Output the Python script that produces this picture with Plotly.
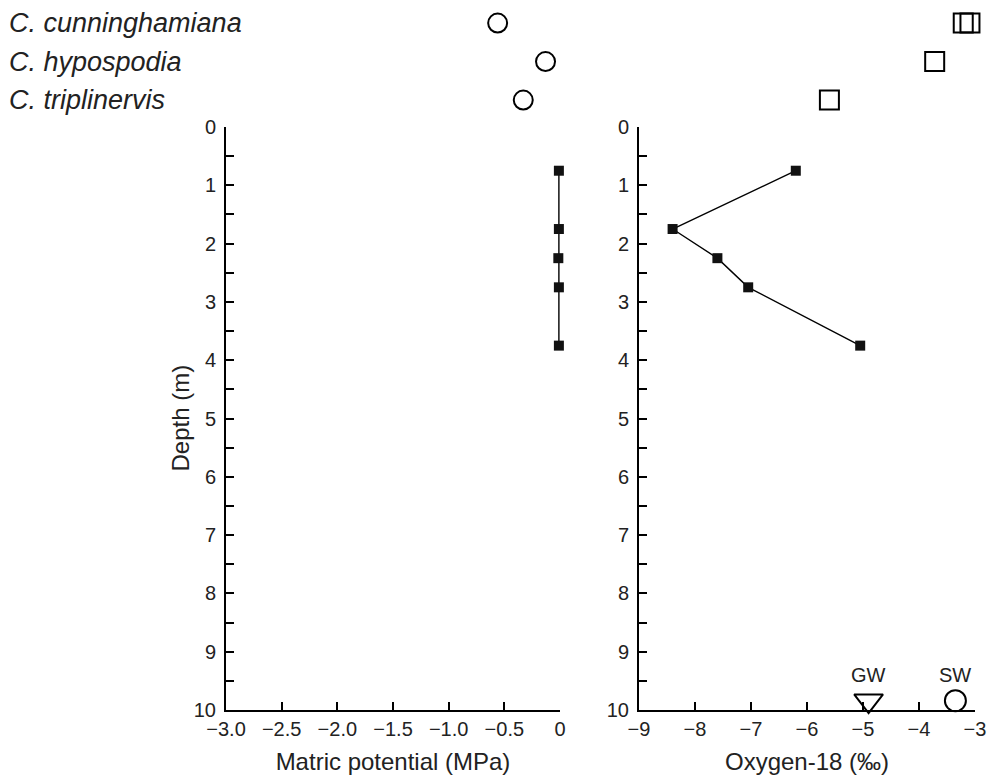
import plotly.graph_objects as go

# ---------------- data ----------------
depth = [0.75, 1.75, 2.25, 2.75, 3.75]
matric_potential = [-0.01, -0.01, -0.015, -0.01, -0.01]
oxygen18 = [-6.2, -8.4, -7.6, -7.05, -5.05]

species = ["C. cunninghamiana", "C. hypospodia", "C. triplinervis"]
species_matric = [-0.56, -0.13, -0.33]
species_o18 = [[-3.21, -3.09], [-3.72], [-5.6]]

gw_label, gw_o18, gw_depth = "GW", -4.9, 9.84
sw_label, sw_o18, sw_depth = "SW", -3.35, 9.84

matric_ticks = [-3.0, -2.5, -2.0, -1.5, -1.0, -0.5, 0]
matric_ticktext = ["\u22123.0", "\u22122.5", "\u22122.0", "\u22121.5", "\u22121.0", "\u22120.5", "0"]
o18_ticks = [-9, -8, -7, -6, -5, -4, -3]
o18_ticktext = ["\u22129", "\u22128", "\u22127", "\u22126", "\u22125", "\u22124", "\u22123"]
depth_ticks = list(range(0, 11))

# ---------------- layout constants ----------------
W, H = 987, 775
FONT = "Liberation Sans, Arial, Helvetica, sans-serif"
TXT = "#222222"
left_dom = [226 / W, 560 / W]
right_dom = [639 / W, 975 / W]
y_dom = [(H - 710) / H, (H - 127) / H]
top_dom = [(H - 127) / H, 1.0]

fig = go.Figure()

# main profiles
fig.add_trace(go.Scatter(
    x=matric_potential, y=depth, mode="lines+markers",
    line=dict(color="black", width=1.4),
    marker=dict(symbol="square", size=10, color="#111111"),
    xaxis="x", yaxis="y", cliponaxis=False, showlegend=False))
fig.add_trace(go.Scatter(
    x=oxygen18, y=depth, mode="lines+markers",
    line=dict(color="black", width=1.4),
    marker=dict(symbol="square", size=10, color="#111111"),
    xaxis="x2", yaxis="y2", cliponaxis=False, showlegend=False))

# GW / SW
fig.add_trace(go.Scatter(
    x=[gw_o18], y=[gw_depth], mode="markers",
    marker=dict(symbol="triangle-down", size=25, color="white",
                line=dict(color="black", width=2)),
    xaxis="x2", yaxis="y2", cliponaxis=False, showlegend=False))
fig.add_trace(go.Scatter(
    x=[sw_o18], y=[sw_depth], mode="markers",
    marker=dict(symbol="circle", size=21, color="white",
                line=dict(color="black", width=2)),
    xaxis="x2", yaxis="y2", cliponaxis=False, showlegend=False))

# species row symbols (top band)
rows = list(range(len(species)))
fig.add_trace(go.Scatter(
    x=species_matric, y=rows, mode="markers",
    marker=dict(symbol="circle", size=19, color="rgba(0,0,0,0)",
                line=dict(color="black", width=2)),
    xaxis="x", yaxis="y3", cliponaxis=False, showlegend=False))
sx, sy = [], []
for i, vals in enumerate(species_o18):
    for v in vals:
        sx.append(v)
        sy.append(i)
fig.add_trace(go.Scatter(
    x=sx, y=sy, mode="markers",
    marker=dict(symbol="square", size=19, color="rgba(0,0,0,0)",
                line=dict(color="black", width=2)),
    xaxis="x2", yaxis="y4", cliponaxis=False, showlegend=False))

axis_common = dict(showline=True, linecolor="black", linewidth=2,
                   ticks="inside", ticklen=8, tickwidth=2, tickcolor="black",
                   showgrid=False, zeroline=False, automargin=False,
                   tickfont=dict(family=FONT, size=20, color=TXT))

yaxis_common = dict(axis_common, range=[10, 0], tickvals=depth_ticks,
                    ticklabelstandoff=4,
                    minor=dict(dtick=0.5, tick0=0, ticks="inside", ticklen=8,
                               tickwidth=2, tickcolor="black", showgrid=False))

top_range = [2.70, -0.60]
title_font = dict(family=FONT, size=24, color=TXT)

fig.update_layout(
    width=W, height=H, autosize=False,
    margin=dict(l=0, r=0, t=0, b=0, pad=0, autoexpand=False),
    paper_bgcolor="white", plot_bgcolor="rgba(0,0,0,0)",
    font=dict(family=FONT, color=TXT),
    xaxis=dict(axis_common, domain=left_dom, range=[-3, 0], anchor="y",
               tickvals=matric_ticks, ticktext=matric_ticktext,
               title=dict(text="Matric potential (MPa)", standoff=18, font=title_font)),
    yaxis=dict(yaxis_common, domain=y_dom, anchor="x"),
    xaxis2=dict(axis_common, domain=right_dom, range=[-9, -3], anchor="y2",
                tickvals=o18_ticks, ticktext=o18_ticktext,
                title=dict(text="Oxygen-18 (\u2030)", standoff=18, font=title_font)),
    yaxis2=dict(yaxis_common, domain=y_dom, anchor="x2"),
    yaxis3=dict(domain=top_dom, range=top_range, visible=False, anchor="x"),
    yaxis4=dict(domain=top_dom, range=top_range, visible=False, anchor="x2"),
)

# y-axis title
fig.add_annotation(text="Depth (m)", textangle=-90, x=180 / W, xref="paper",
                   xanchor="center", y=sum(y_dom) / 2, yref="paper",
                   yanchor="middle", showarrow=False, font=title_font)

for i, name in enumerate(species):
    fig.add_annotation(text=name, x=7 / W, xref="paper", xanchor="left",
                       y=i, yref="y3", yanchor="middle", showarrow=False,
                       font=dict(family=FONT, size=27, color=TXT, style="italic"))

for lab, xv, yv in [(gw_label, gw_o18, gw_depth), (sw_label, sw_o18, sw_depth)]:
    fig.add_annotation(text=lab, x=xv, y=yv, xref="x2", yref="y2",
                       yshift=26, showarrow=False,
                       font=dict(family=FONT, size=20, color=TXT))

fig.write_html("out.html")
